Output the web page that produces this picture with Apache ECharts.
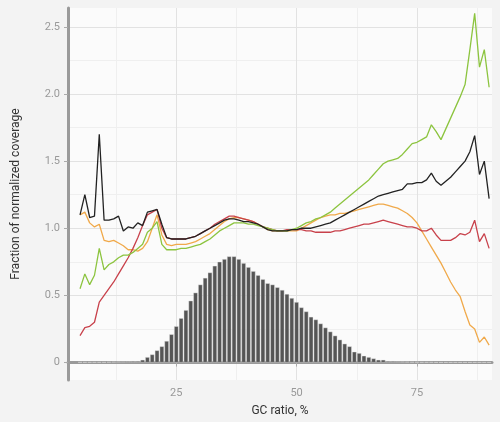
<!DOCTYPE html>
<html><head><meta charset="utf-8">
<script src="https://cdn.jsdelivr.net/npm/echarts@6/dist/echarts.min.js"></script>
<style>html,body{margin:0;padding:0;background:#f3f3f3}#c{width:500px;height:422px}</style>
</head><body><div id="c"></div>
<script>
const gcStart = 5;
const xTicks = [25, 50, 75];
const xMinor = [12.5, 37.5, 62.5, 87.5];
const yTicks = [0, 0.5, 1, 1.5, 2, 2.5];
const yMinor = [0.25, 0.75, 1.25, 1.75, 2.25];
const histogram = [0.003,0.003,0.003,0.003,0.003,0.003,0.004,0.005,0.006,0.007,0.009,
 0.01,0.01,0.02,0.04,0.06,0.09,0.12,0.16,0.21,0.27,0.33,0.39,0.46,0.52,0.58,0.63,0.67,0.72,0.75,0.77,
 0.79,0.79,0.77,0.74,0.71,0.68,0.65,0.62,0.59,0.58,0.56,0.54,0.51,0.48,0.45,0.41,0.38,0.34,0.32,0.29,
 0.26,0.23,0.20,0.17,0.14,0.12,0.08,0.07,0.05,0.04,0.03,0.02,0.02,0.01,
 0.01,0.008,0.006,0.005,0.004,0.004,0.003,0.003,0.003,0.002,0.002,0.002,0.002,0.002,0.002,0.002,0.002,0.002,0.002,0.002,0.002];
const blackLine = [1.10,1.25,1.08,1.09,1.70,1.06,1.06,1.07,1.09,0.98,1.01,1.00,1.04,1.02,1.12,1.13,1.14,1.03,0.93,0.92,
 0.92,0.92,0.92,0.93,0.94,0.96,0.98,1.00,1.02,1.04,1.06,1.07,1.07,1.06,1.05,1.05,1.04,1.03,1.01,0.99,
 0.98,0.98,0.98,0.98,0.99,0.99,
 1.00,1.00,1.00,1.01,1.02,1.03,1.04,1.06,1.08,1.10,1.12,1.14,1.16,1.18,1.20,1.22,1.24,1.25,1.26,1.27,
 1.28,1.29,1.33,1.33,1.34,1.34,1.36,1.41,1.35,1.32,1.35,1.38,1.42,1.46,1.50,1.57,1.69,1.40,1.50,1.22];
const greenLine = [0.55,0.66,0.58,0.65,0.85,0.69,0.73,0.75,0.78,0.80,0.80,0.82,0.85,0.88,0.97,1.00,1.05,0.88,0.84,0.84,
 0.84,0.85,0.85,0.86,0.87,0.88,0.90,0.92,0.95,0.98,1.00,1.02,1.04,1.04,1.04,1.03,1.03,1.02,1.01,1.00,
 0.99,0.98,0.98,0.98,0.99,1.00,
 1.02,1.04,1.05,1.07,1.08,1.10,1.12,1.15,1.18,1.21,1.24,1.27,1.30,1.33,1.36,1.40,1.44,1.48,1.50,1.51,
 1.52,1.55,1.59,1.63,1.64,1.66,1.68,1.77,1.72,1.66,1.74,1.82,1.90,1.98,2.07,2.33,2.60,2.20,2.33,2.05];
const orangeLine = [1.10,1.12,1.04,1.01,1.03,0.91,0.90,0.91,0.89,0.87,0.84,0.84,0.83,0.85,0.90,1.00,1.10,0.95,0.88,0.87,
 0.88,0.88,0.88,0.89,0.90,0.92,0.94,0.96,0.99,1.02,1.05,1.07,1.08,1.08,1.07,1.06,1.05,1.03,1.01,0.99,
 0.98,0.98,0.98,0.98,0.98,0.98,
 1.00,1.02,1.04,1.06,1.08,1.09,1.10,1.10,1.11,1.11,1.12,1.13,1.14,1.15,1.16,1.17,1.18,1.18,1.17,1.16,
 1.15,1.13,1.11,1.08,1.04,0.98,0.92,0.86,0.80,0.74,0.67,0.60,0.54,0.49,0.38,0.28,0.25,0.15,0.19,0.13];
const redLine = [0.20,0.26,0.27,0.30,0.45,0.50,0.55,0.60,0.66,0.72,0.78,0.85,0.93,1.02,1.10,1.12,1.14,1.00,0.93,0.92,
 0.92,0.92,0.92,0.93,0.94,0.96,0.98,1.00,1.03,1.05,1.07,1.09,1.09,1.08,1.07,1.06,1.05,1.03,1.01,1.00,
 0.99,0.98,0.98,0.99,0.99,0.99,
 0.99,0.98,0.98,0.97,0.97,0.97,0.97,0.98,0.98,0.99,1.00,1.01,1.02,1.03,1.03,1.04,1.05,1.06,1.05,1.04,
 1.03,1.02,1.01,1.01,1.00,0.98,0.98,1.00,0.95,0.91,0.91,0.91,0.93,0.96,0.95,0.97,1.06,0.90,0.96,0.85];

const pts = a => a.map((v, i) => [gcStart + i, v]);
const line = (a, c) => ({type:'line', data: pts(a), symbol:'none', lineStyle:{color:c, width:1.3}, itemStyle:{color:c}, z:20, silent:true});
const chart = echarts.init(document.getElementById('c'));
chart.setOption({
  backgroundColor:'#f3f3f3',
  animation:false,
  grid:{left:68, right:8, top:8, bottom:37, show:true, backgroundColor:'#fbfbfb', borderWidth:0},
  xAxis:{type:'value', min:2.5, max:90.6, splitLine:{show:false},
    axisLine:{lineStyle:{color:'#9a9a9a', width:3}},
    axisTick:{customValues:xTicks, length:4, lineStyle:{color:'#aaa'}},
    axisLabel:{customValues:xTicks, color:'#999', fontSize:11, fontFamily:'Roboto', margin:8},
    name:'GC ratio, %', nameLocation:'middle', nameGap:25, nameTextStyle:{color:'#333', fontSize:12, fontFamily:'Roboto'}},
  yAxis:{type:'value', min:-0.13, max:2.64, splitLine:{show:false},
    axisLine:{show:true, lineStyle:{color:'#9a9a9a', width:3}},
    axisTick:{show:true, customValues:yTicks, length:4, lineStyle:{color:'#aaa'}},
    axisLabel:{customValues:yTicks, color:'#999', fontSize:11, fontFamily:'Roboto', margin:8,
      formatter:v => v === 0 ? '0' : v.toFixed(1)},
    name:'Fraction of normalized coverage', nameLocation:'middle', nameGap:46, nameTextStyle:{color:'#333', fontSize:12, fontFamily:'Roboto'}},
  series:[
    {type:'line', data:[], silent:true, z:0, zlevel:0, markLine:{silent:true, symbol:'none', z:0, label:{show:false},
      data:[...xMinor.map(x=>({xAxis:x, lineStyle:{color:'#efefef', width:1, type:'solid'}})),
            ...yMinor.map(y=>({yAxis:y, lineStyle:{color:'#efefef', width:1, type:'solid'}})),
            ...xTicks.map(x=>({xAxis:x, lineStyle:{color:'#e2e2e2', width:1, type:'solid'}})),
            ...yTicks.map(y=>({yAxis:y, lineStyle:{color:'#e2e2e2', width:1, type:'solid'}}))]}},
    {type:'bar', data: pts(histogram), barWidth:4.3, itemStyle:{color:'#555', borderColor:'#e8e8e8', borderWidth:0.4}, z:10, silent:true},
    line(orangeLine, '#f0a94a'),
    line(redLine, '#c8414b'),
    line(greenLine, '#8cc43f'),
    line(blackLine, '#222')
  ]
});
</script></body></html>
